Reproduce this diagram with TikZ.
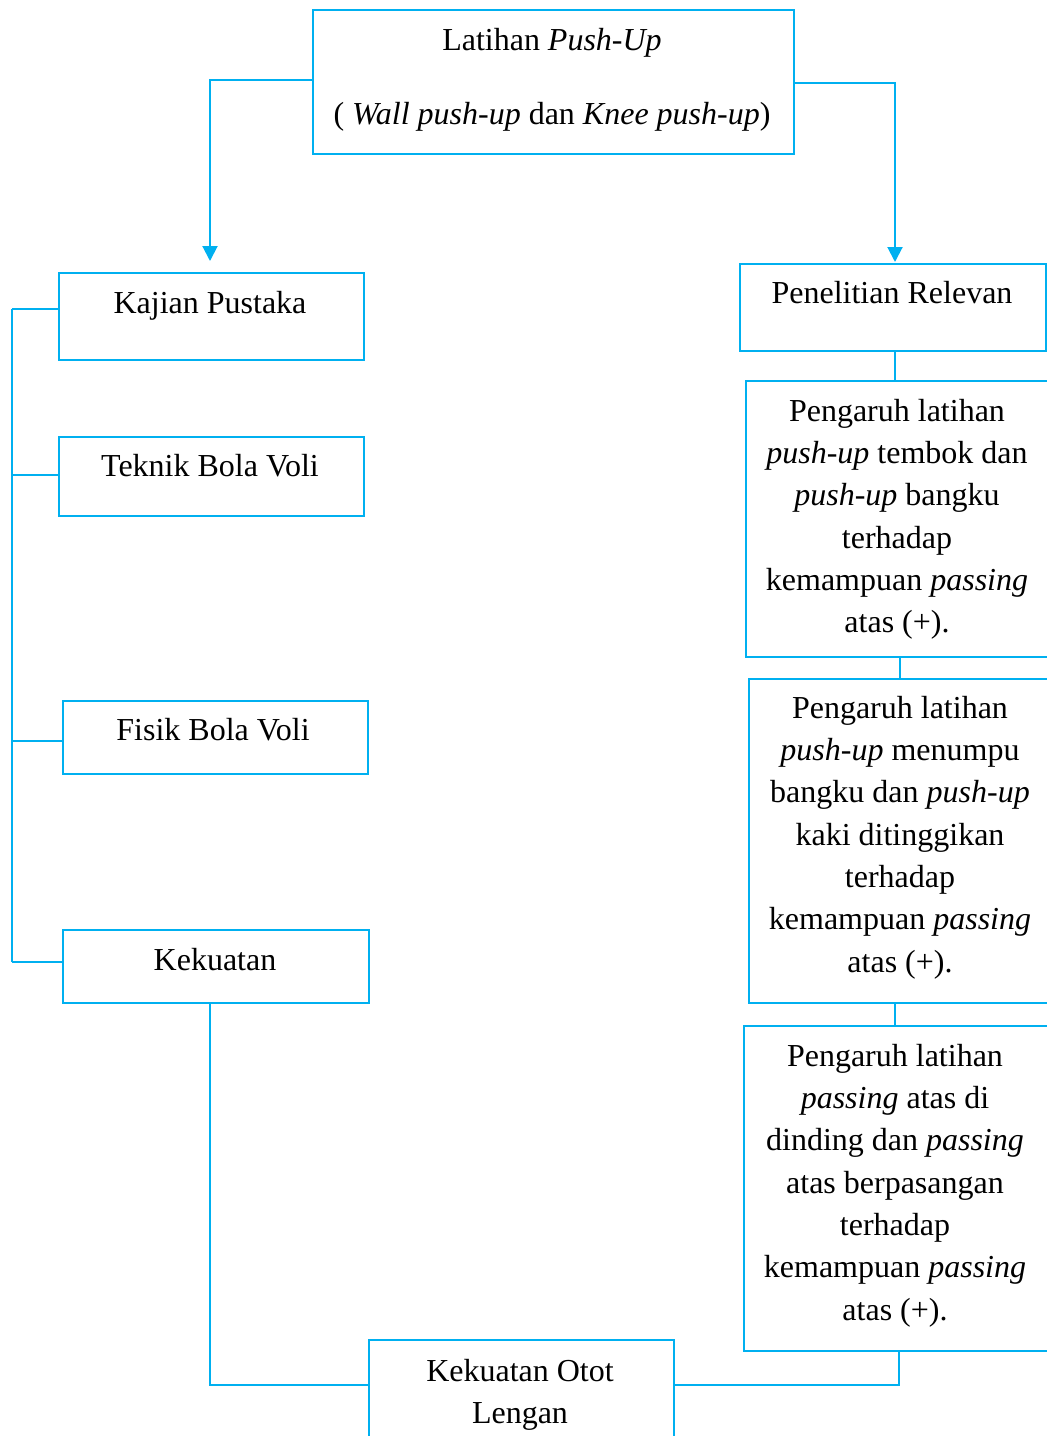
\documentclass[tikz,border=0pt]{standalone}
\usepackage{fontspec}
\setmainfont{Liberation Serif}
\usetikzlibrary{arrows.meta}
\definecolor{ln}{RGB}{0,176,240}
\begin{document}
\begin{tikzpicture}[x=1pt,y=-1pt,
  box/.style={draw=ln, line width=2pt, rectangle, inner sep=0pt, anchor=north west},
  txt/.style={inner sep=0pt, anchor=north, align=center, font=\fontsize{32}{42.3}\selectfont},
  conn/.style={draw=ln, line width=2pt},
  arr/.style={conn, -{Triangle[length=15pt,width=15pt]}}]
\useasboundingbox (0,0) rectangle (1047,1436);
\clip (0,0) rectangle (1047,1436);
% boxes
\node[box, minimum width=481pt, minimum height=144pt] (top) at (312,9) {};
\node[box, minimum width=305pt, minimum height=87pt] (kp) at (58,272) {};
\node[box, minimum width=305pt, minimum height=79pt] (tb) at (58,436) {};
\node[box, minimum width=305pt, minimum height=73pt] (fb) at (62,700) {};
\node[box, minimum width=306pt, minimum height=73pt] (kk) at (62,929) {};
\node[box, minimum width=306pt, minimum height=87pt] (pr) at (739,263) {};
\node[box, minimum width=310pt, minimum height=276pt] (r1) at (745,380) {};
\node[box, minimum width=310pt, minimum height=324pt] (r2) at (748,678) {};
\node[box, minimum width=310pt, minimum height=325pt] (r3) at (743,1025) {};
\node[box, minimum width=305pt, minimum height=110pt] (ko) at (368,1339) {};
% texts
\node[txt] (topt) at (552,20.4) {\strut Latihan \textit{Push-Up}\\[31.7pt]( \textit{Wall push-up} dan \textit{Knee push-up})};
\node[txt] (kpt) at (210,283.4) {\strut Kajian Pustaka};
\node[txt] (tbt) at (210,446.4) {\strut Teknik Bola Voli};
\node[txt] (fbt) at (213,710.4) {\strut Fisik Bola Voli};
\node[txt] (kkt) at (215,940.4) {\strut Kekuatan};
\node[txt] (prt) at (892,273.4) {\strut Penelitian Relevan};
\node[txt] (r1t) at (897,391.4) {\strut Pengaruh latihan\\\textit{push-up} tembok dan\\\textit{push-up} bangku\\terhadap\\kemampuan \textit{passing}\\atas (+).};
\node[txt] (r2t) at (900,688.4) {\strut Pengaruh latihan\\\textit{push-up} menumpu\\bangku dan \textit{push-up}\\kaki ditinggikan\\terhadap\\kemampuan \textit{passing}\\atas (+).};
\node[txt] (r3t) at (895,1036.4) {\strut Pengaruh latihan\\\textit{passing} atas di\\dinding dan \textit{passing}\\atas berpasangan\\terhadap\\kemampuan \textit{passing}\\atas (+).};
\node[txt] (kot) at (520,1351.4) {\strut Kekuatan Otot\\Lengan};
% connector coordinates
\coordinate (aL) at (210,80);
\coordinate (aR) at (895,83);
\coordinate (b1) at (12,309);
\coordinate (b2) at (12,475);
\coordinate (b3) at (12,741);
\coordinate (b4) at (12,962);
\coordinate (kd) at (210,1385);
\coordinate (rd) at (899,1385);
\coordinate (v1) at (895,0);
\coordinate (v2) at (900,0);
% arrows from top box
\draw[arr] (top.west |- aL) -- (aL) -- ([yshift=11pt]aL |- kp.north);
\draw[arr] (top.east |- aR) -- (aR) -- ([yshift=1pt]aR |- pr.north);
% left bus
\draw[conn] (b1) -- (b4);
\draw[conn] (b1) -- (kp.west |- b1);
\draw[conn] (b2) -- (tb.west |- b2);
\draw[conn] (b3) -- (fb.west |- b3);
\draw[conn] (b4) -- (kk.west |- b4);
% right chain
\draw[conn] (v1 |- pr.south) -- (v1 |- r1.north);
\draw[conn] (v2 |- r1.south) -- (v2 |- r2.north);
\draw[conn] (v1 |- r2.south) -- (v1 |- r3.north);
% to bottom box
\draw[conn] (kd |- kk.south) -- (kd) -- (ko.west |- kd);
\draw[conn] (rd |- r3.south) -- (rd) -- (ko.east |- rd);
\end{tikzpicture}
\end{document}
